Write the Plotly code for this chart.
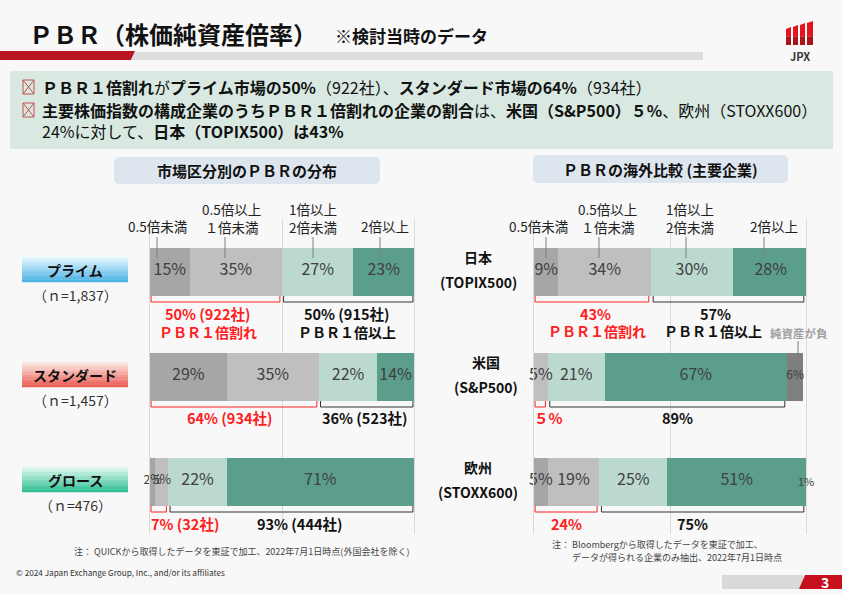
import plotly.graph_objects as go

W, H = 842, 595
FONT = "Noto Sans CJK JP"

# ---------------- data ----------------
segment_names = ["0.5倍未満", "0.5倍以上<br>１倍未満", "1倍以上<br>2倍未満", "2倍以上", "純資産が負"]

markets = ["プライム", "スタンダード", "グロース"]
market_n = ["（ｎ=1,837）", "（ｎ=1,457）", "（ｎ=476）"]
mk_lt05 = [15, 29, 2]
mk_05_1 = [35, 35, 5]
mk_1_2 = [27, 22, 22]
mk_ge2 = [23, 14, 71]
mk_below_label = ["50% (922社)", "64% (934社)", "7% (32社)"]
mk_above_label = ["50% (915社)", "36% (523社)", "93% (444社)"]

regions = ["日本", "米国", "欧州"]
region_index = ["(TOPIX500)", "(S&P500)", "(STOXX600)"]
rg_lt05 = [9, 0, 5]
rg_05_1 = [34, 5, 19]
rg_1_2 = [30, 21, 25]
rg_ge2 = [28, 67, 51]
rg_neg = [0, 6, 1]
rg_below_label = ["43%", "５%", "24%"]
rg_above_label = ["57%", "89%", "75%"]

summary_lines = [
    "<b>ＰＢＲ１倍割れ</b>が<b>プライム市場の50%</b>（922社）、<b>スタンダード市場の64%</b>（934社）",
    "<b>主要株価指数の構成企業のうちＰＢＲ１倍割れの企業の割合</b>は、<b>米国（S&P500）５%</b>、欧州（STOXX600）",
    "24%に対して、<b>日本（TOPIX500）は43%</b>",
]

# ---------------- style ----------------
C_LT05 = "#a6a6a6"
C_05_1 = "#bfbfbf"
C_1_2 = "#bcd9d0"
C_GE2 = "#5a9e8b"
C_NEG = "#7f7f7f"
TXT = "#404040"
RED = "#ff2020"
BG = "#f8f8f8"
GRID = "#d9d9d9"
XMAX = 100


def X(px):
    return px / W


def Y(py):
    return 1 - py / H


shapes = []
annotations = []


def ann(text, x, y, size, color="#222222", bold=False, xanchor="center", yanchor="middle", align="center"):
    annotations.append(dict(
        text=f"<b>{text}</b>" if bold else text, x=X(x), y=Y(y), xref="paper", yref="paper",
        showarrow=False, xanchor=xanchor, yanchor=yanchor, align=align, borderpad=0,
        font=dict(family=FONT, size=size, color=color)))


def rect(x0, y0, x1, y1, fill, line_color=None, lw=0, layer="below"):
    shapes.append(dict(type="rect", xref="paper", yref="paper", x0=X(x0), x1=X(x1), y0=Y(y0), y1=Y(y1),
                       fillcolor=fill, line=dict(color=line_color or fill, width=lw), layer=layer))


def seg(x0, y0, x1, y1, color, w=1, layer="above"):
    shapes.append(dict(type="line", xref="paper", yref="paper", x0=X(x0), x1=X(x1), y0=Y(y0), y1=Y(y1),
                       line=dict(color=color, width=w), layer=layer))


def poly(pts, fill, layer="below"):
    p = "M " + " L ".join(f"{X(a)},{Y(b)}" for a, b in pts) + " Z"
    shapes.append(dict(type="path", xref="paper", yref="paper", path=p, fillcolor=fill,
                       line=dict(width=0), layer=layer))


def round_box(x0, y0, x1, y1, r, fill):
    rect(x0 + r, y0, x1 - r, y1, fill)
    rect(x0, y0 + r, x1, y1 - r, fill)
    for cx, cy in [(x0 + r, y0 + r), (x1 - r, y0 + r), (x0 + r, y1 - r), (x1 - r, y1 - r)]:
        shapes.append(dict(type="circle", xref="paper", yref="paper", x0=X(cx - r), x1=X(cx + r),
                           y0=Y(cy + r), y1=Y(cy - r), fillcolor=fill, line=dict(width=0), layer="below"))


def hexrgb(h):
    return tuple(int(h[i:i + 2], 16) for i in (1, 3, 5))


def grad_rect(x0, y0, x1, y1, ctop, cbot, n=10):
    a, b = hexrgb(ctop), hexrgb(cbot)
    hh = (y1 - y0) / n
    for i in range(n):
        t = i / (n - 1)
        c = "#%02x%02x%02x" % tuple(int(a[k] + (b[k] - a[k]) * t) for k in range(3))
        rect(x0, y0 + i * hh, x1, y0 + (i + 1) * hh + 0.3, c)


# ---------------- plot geometry ----------------
PLOT_TOP, ROW = 218.5, 105.0
BAR_H = 48
row_center = [PLOT_TOP + ROW / 2 + ROW * i for i in range(3)]
L0, L1 = 150, 414
R0, R1 = 534, 806

fig = go.Figure()


def add_bars(cats, series, colors, sizes_list, xa, ya, px0, px1):
    for vals, col in zip(series, colors):
        fig.add_trace(go.Bar(
            y=cats, x=vals, orientation="h", marker=dict(color=col, line=dict(width=0)),
            width=BAR_H / ROW, xaxis=xa, yaxis=ya, hoverinfo="skip", showlegend=False))
    # value labels on top of all bars, at the segment midpoints
    xs, ys, ts, ss = [], [], [], []
    for r, cat in enumerate(cats):
        cum = 0
        for vals, sizes in zip(series, sizes_list):
            v = vals[r]
            if v > 0:
                mid = cum + v / 2
                if mid <= XMAX:
                    xs.append(mid)
                    ys.append(cat)
                    ts.append(f"{v}%")
                    ss.append(sizes[r])
                else:  # sliver past the axis end: place label just at the bar end
                    ann(f"{v}%", px0 + (px1 - px0) * min(mid, XMAX) / XMAX, row_center[r],
                        sizes[r], TXT)
            cum += v
    fig.add_trace(go.Scatter(x=xs, y=ys, text=ts, mode="text", textposition="middle center",
                             textfont=dict(family=FONT, size=ss, color=TXT), cliponaxis=False,
                             xaxis=xa, yaxis=ya, hoverinfo="skip", showlegend=False))


add_bars(markets, [mk_lt05, mk_05_1, mk_1_2, mk_ge2], [C_LT05, C_05_1, C_1_2, C_GE2],
         [[16, 16, 12.5], [16, 16, 12.5], [16, 16, 16], [16, 16, 16]], "x", "y", L0, L1)
add_bars(regions, [rg_lt05, rg_05_1, rg_1_2, rg_ge2, rg_neg], [C_LT05, C_05_1, C_1_2, C_GE2, C_NEG],
         [[16, 16, 16], [16, 16, 16], [16, 16, 16], [16, 16, 16], [12, 12, 11]], "x2", "y2", R0, R1)

ydom = [Y(PLOT_TOP + 3 * ROW), Y(PLOT_TOP)]
axcommon = dict(range=[0, XMAX], dtick=50, showgrid=True, gridcolor=GRID, gridwidth=1,
                showticklabels=False, zeroline=False, showline=False, fixedrange=True)
ycommon = dict(domain=ydom, range=[2.5, -0.5], showticklabels=False, showgrid=False,
               zeroline=False, fixedrange=True, showline=True, mirror=True, linecolor=GRID, linewidth=1)

# ---------------- slide decoration ----------------
# header
poly([(0, 51), (135, 51), (131, 60), (0, 60)], "#b8151f")
poly([(135, 52), (703, 52), (703, 60), (131, 60)], "#dcdcdc")
ann("ＰＢＲ（株価純資産倍率）", 28, 33, 24, "#111111", bold=True, xanchor="left")
ann("※検討当時のデータ", 334, 35, 17, "#111111", bold=True, xanchor="left")

# JPX logo
for i in range(4):
    x0 = 786 + 7 * i
    wdt = 5 if i < 3 else 6
    top = 28 - 2 * i
    poly([(x0, top + 1), (x0 + wdt, top - 1), (x0 + wdt, 36), (x0, 37)], "#e3141c", layer="above")
    poly([(x0, 37), (x0 + wdt, 36), (x0 + wdt, 45), (x0, 45)], "#a8141b", layer="above")
ann("JPX", 800, 56, 11, "#333333", bold=True)

# summary box
rect(10, 71, 833, 149, "#d9e9e2")
for yy, line in zip([87, 110, 131], summary_lines):
    ann(line, 41, yy, 16, "#111111", xanchor="left", align="left")
for yy in [87, 110]:
    rect(23, yy - 7, 34, yy + 7, "rgba(0,0,0,0)", "#c0504d", 1, layer="above")
    seg(23, yy - 7, 34, yy + 7, "#c0504d", 1)
    seg(23, yy + 7, 34, yy - 7, "#c0504d", 1)

# subtitle boxes
round_box(114, 157, 380, 184, 5, "#dde5ef")
ann("市場区分別のＰＢＲの分布", 247, 170, 15, "#111111", bold=True)
round_box(533, 155, 788, 183, 5, "#dde5ef")
ann("ＰＢＲの海外比較 (主要企業)", 660, 169, 15, "#111111", bold=True)

# segment labels with leader lines
left_lab_x = [157, 232, 313, 385]
left_lead_x = [157, 225, 313, 380]
right_lab_x = [538, 607, 690, 774]
right_lead_x = [546, 599, 686, 764]
for k in range(4):
    name = segment_names[k]
    ymid = 218 if "<br>" in name else 226
    ann(name, left_lab_x[k], ymid, 13.5, "#222222")
    ann(name, right_lab_x[k], ymid, 13.5, "#222222")
    seg(left_lead_x[k], 237, left_lead_x[k], 258, "#7f7f7f", 1)
    seg(right_lead_x[k], 237, right_lead_x[k], 258, "#7f7f7f", 1)
ann(segment_names[4], 799, 333, 11.5, "#a0a0a0", bold=True)
seg(798, 341, 798, 365, "#7f7f7f", 1)

# market labels (left)
grads = [("#e2f5fd", "#4fb4e6"), ("#fde6e2", "#ec5f57"), ("#dcf6ec", "#33c096")]
for i, (m, n) in enumerate(zip(markets, market_n)):
    cy = row_center[i] - 1
    grad_rect(22, cy - 13, 128, cy + 12, grads[i][0], grads[i][1])
    ann(m, 75, cy, 14, "#111111", bold=True)
    ann(n, 75, cy + 25, 14, "#333333")

# region labels (right)
for i, (r, idx) in enumerate(zip(regions, region_index)):
    cy = row_center[i]
    cx = 486 if i == 1 else 478
    ann(r, cx, cy - 14, 14, "#111111", bold=True)
    ann(idx, cx, cy + 11, 14, "#111111", bold=True)


# brackets (data positions)
def bracket(xref, x0, x1, ytop, color):
    p = f"M {x0},{Y(ytop)} L {x0},{Y(ytop + 6)} L {x1},{Y(ytop + 6)} L {x1},{Y(ytop)}"
    shapes.append(dict(type="path", xref=xref, yref="paper", path=p, line=dict(color=color, width=1),
                       layer="above"))


for i in range(3):
    bot = row_center[i] + BAR_H / 2
    below = mk_lt05[i] + mk_05_1[i]
    bracket("x", 0.4, below - 0.8, bot + 1, RED)
    bracket("x", below + 0.6, 99.6, bot + 1, "#333333")
    below_r = rg_lt05[i] + rg_05_1[i]
    above_r = below_r + rg_1_2[i] + rg_ge2[i]
    bracket("x2", 0.4, below_r - 0.8, bot + 1, RED)
    bracket("x2", below_r + 0.8, min(above_r, 100) - 0.8, bot + 1, "#333333")

# bracket texts
mk_red_x = [208, 230, 185]
mk_blk_x = [347, 365, 300]
rg_red_x = [595, 548, 566]
rg_blk_x = [715, 677, 692]
for i in range(3):
    bot = row_center[i] + BAR_H / 2
    ty = bot + 18
    ann(mk_below_label[i], mk_red_x[i], ty, 14.5, RED, bold=True)
    ann(mk_above_label[i], mk_blk_x[i], ty, 14.5, "#111111", bold=True)
    ann(rg_below_label[i], rg_red_x[i], ty, 14.5, RED, bold=True)
    ann(rg_above_label[i], rg_blk_x[i], ty, 14.5, "#111111", bold=True)
ann("ＰＢＲ１倍割れ", 208, 332, 14, RED, bold=True)
ann("ＰＢＲ１倍以上", 347, 332, 14, "#111111", bold=True)
ann("ＰＢＲ１倍割れ", 597, 331, 14, RED, bold=True)
ann("ＰＢＲ１倍以上", 713, 331, 14, "#111111", bold=True)

# notes
ann("注： QUICKから取得したデータを東証で加工、2022年7月1日時点(外国会社を除く)", 410, 551, 9, "#444444",
    xanchor="right")
ann("注： Bloombergから取得したデータを東証で加工、", 551, 544, 9, "#444444", xanchor="left")
ann("データが得られる企業のみ抽出、2022年7月1日時点", 571, 557, 9, "#444444", xanchor="left")
ann("© 2024 Japan Exchange Group, Inc., and/or its affiliates", 15, 572, 8.2, "#333333", xanchor="left")

# page number
rect(722, 575, 803, 589, "#d9d9d9")
poly([(799, 589), (805, 575), (842, 575), (842, 589)], "#c4111c")
ann("3", 825, 582, 14, "#ffffff", bold=True)

fig.update_layout(
    width=W, height=H, margin=dict(l=0, r=0, t=0, b=0),
    paper_bgcolor=BG, plot_bgcolor="rgba(0,0,0,0)",
    barmode="stack", bargap=0, showlegend=False,
    font=dict(family=FONT),
    xaxis=dict(domain=[X(L0), X(L1)], anchor="y", **axcommon),
    yaxis=dict(anchor="x", categoryorder="array", categoryarray=markets, **ycommon),
    xaxis2=dict(domain=[X(R0), X(R1)], anchor="y2", **axcommon),
    yaxis2=dict(anchor="x2", categoryorder="array", categoryarray=regions, **ycommon),
    shapes=shapes, annotations=annotations,
)

fig.write_html(
    "out.html",
    config={"displayModeBar": False},
    post_script="document.body.style.margin='0';document.body.style.background='" + BG + "';",
)
